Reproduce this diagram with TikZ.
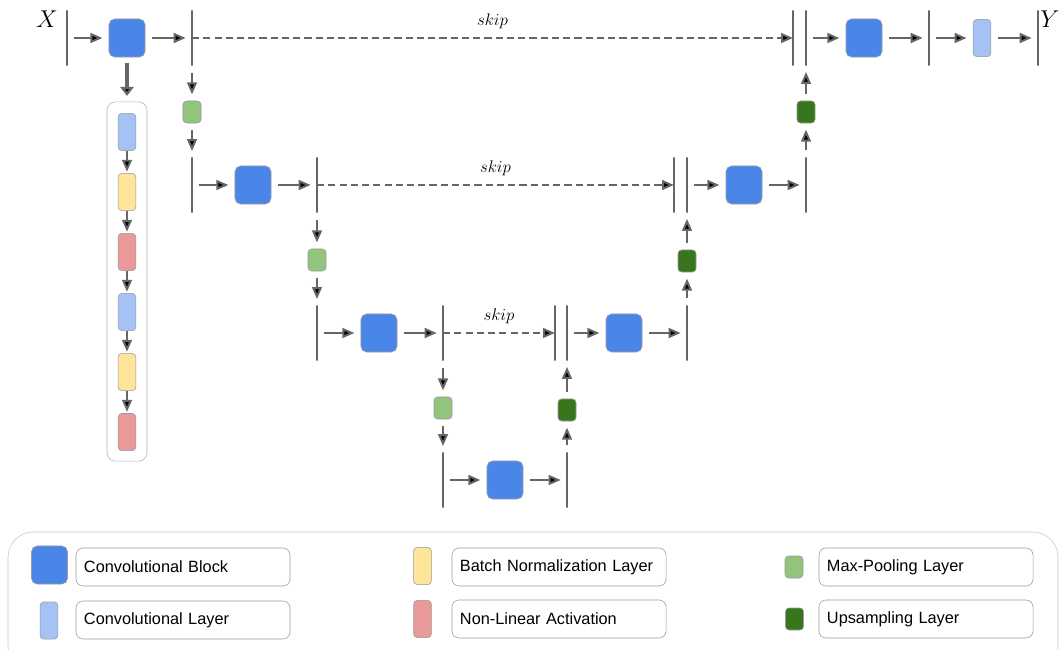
\documentclass[tikz,border=0pt]{standalone}
\usepackage{fontspec}
\setsansfont{Liberation Sans}
\usetikzlibrary{arrows.meta,positioning}
\definecolor{convblue}{HTML}{4A86E8}
\definecolor{layerblue}{HTML}{A4C2F4}
\definecolor{bnyellow}{HTML}{FFE599}
\definecolor{actred}{HTML}{EA9999}
\definecolor{poolgreen}{HTML}{93C47D}
\definecolor{upgreen}{HTML}{38761D}
\definecolor{linegray}{HTML}{666666}
\definecolor{boxgray}{HTML}{9A9A9A}
\tikzset{
    block/.style={
           rectangle, rounded corners=4pt,
           draw=boxgray, thin, fill=convblue,
           minimum width=0.9cm,
           minimum height=0.95cm,
           inner sep=0pt
           },
    layer/.style={
           rectangle, rounded corners=2.5pt,
           draw=boxgray, thin,
           minimum width=0.44cm,
           minimum height=0.93cm,
           inner sep=0pt
           },
    pool/.style={
           rectangle, rounded corners=2.5pt,
           draw=boxgray, thin, fill=poolgreen,
           minimum width=0.45cm,
           minimum height=0.55cm,
           inner sep=0pt
           },
    upsample/.style={pool, fill=upgreen},
    bar/.style={
           rectangle, draw=linegray, line width=1.1pt,
           minimum width=0pt, minimum height=1.38cm,
           inner sep=0pt, outer sep=0pt
           },
    flow/.style={
           -{Triangle[length=8.5pt,width=7pt]}, draw=linegray, line width=1.4pt,
           shorten <=5pt, shorten >=4.5pt
           },
    stackflow/.style={flow, shorten <=0pt, shorten >=1pt},
    bigflow/.style={
           -{Triangle[length=6.5pt,width=9.5pt]}, draw=linegray, line width=3.5pt,
           shorten <=4pt, shorten >=4pt
           },
    skipline/.style={flow, dash pattern=on 5pt off 3pt, shorten <=0pt, shorten >=0pt},
    skiplabel/.style={
           above=5pt, inner sep=1pt,
           font=\fontsize{11.7}{14}\selectfont
           },
    tag/.style={font=\fontsize{16}{18}\selectfont, inner sep=0pt},
    keybox/.style={
           rectangle, rounded corners=5pt,
           draw=boxgray, thin,
           minimum height=0.95cm,
           text width=4.95cm, inner xsep=0.2cm,
           align=left,
           font=\sffamily\fontsize{11.6}{14}\selectfont
           },
    frame/.style={draw=black!22, thin, rounded corners=18pt}
}
\begin{document}
\begin{tikzpicture}[x=0.025cm, y=-0.025cm, node distance=1.5cm, on grid]
\path[use as bounding box, clip] (0,0) rectangle (1061,650);
% encoder
   \node[bar] (xin) at (67,38) {};
   \node[tag] (xl) at (47,19) {$X$};
   \node[block] (e0) at (127,38) {};
   \node[bar] (s0) at (192,38) {};
   \node[pool] (p0) at (192,112) {};
   \node[bar] (i1) at (192,185) {};
   \node[block] (e1) at (253,185) {};
   \node[bar] (s1) at (317,185) {};
   \node[pool] (p1) at (317,260) {};
   \node[bar] (i2) at (317,333) {};
   \node[block] (e2) at (379,333) {};
   \node[bar] (s2) at (443,333) {};
   \node[pool] (p2) at (443,408) {};
   \node[bar] (i3) at (443,480) {};
   \node[block] (e3) at (505,480) {};
   \node[bar] (o3) at (567,480) {};
% decoder
   \node[upsample] (u2) at (567,410) {};
   \node[bar] (c2a) at (555,333) {};
   \node[bar] (c2b) at (567,333) {};
   \node[block] (d2) at (624,333) {};
   \node[bar] (o2) at (687,333) {};
   \node[upsample] (u1) at (687,261) {};
   \node[bar] (c1a) at (674,185) {};
   \node[bar] (c1b) at (687,185) {};
   \node[block] (d1) at (744,185) {};
   \node[bar] (o1) at (806,185) {};
   \node[upsample] (u0) at (806,112) {};
   \node[bar] (c0a) at (793,38) {};
   \node[bar] (c0b) at (806,38) {};
   \node[block] (d0) at (864,38) {};
   \node[bar] (o0) at (929,38) {};
   \node[layer, fill=layerblue] (out) at (982,38) {};
   \node[bar] (yout) at (1038,38) {};
   \node[tag] (yl) at (1050,19) {$Y$};
   \path[flow]
    (xin) edge (e0)   (e0) edge (s0)
    (s0) edge (p0)    (p0) edge (i1)
    (i1) edge (e1)    (e1) edge (s1)
    (s1) edge (p1)    (p1) edge (i2)
    (i2) edge (e2)    (e2) edge (s2)
    (s2) edge (p2)    (p2) edge (i3)
    (i3) edge (e3)    (e3) edge (o3)
    (o3) edge (u2)    (u2) edge (c2b)
    (c2b) edge (d2)   (d2) edge (o2)
    (o2) edge (u1)    (u1) edge (c1b)
    (c1b) edge (d1)   (d1) edge (o1)
    (o1) edge (u0)    (u0) edge (c0b)
    (c0b) edge (d0)   (d0) edge (o0)
    (o0) edge (out)   (out) edge (yout);
   \path[skipline]
    (s0) edge node[skiplabel] {$skip$} (c0a)
    (s1) edge node[skiplabel] {$skip$} (c1a)
    (s2) edge node[skiplabel] {$skip$} (c2a);
% inside a convolutional block
   \node[layer, draw=black!30, fill=none, minimum width=1cm, minimum height=8.98cm,
         rounded corners=6pt] (side) at (127,281.5) {};
   \node[layer, fill=layerblue] (l1) at (127,132) {};
   \node[layer, fill=bnyellow] (l2) [below=of l1] {};
   \node[layer, fill=actred] (l3) [below=of l2] {};
   \node[layer, fill=layerblue] (l4) [below=of l3] {};
   \node[layer, fill=bnyellow] (l5) [below=of l4] {};
   \node[layer, fill=actred] (l6) [below=of l5] {};
   \path[bigflow] (e0) edge (side);
   \path[stackflow]
    (l1) edge (l2) (l2) edge (l3) (l3) edge (l4)
    (l4) edge (l5) (l5) edge (l6);
% legend
   \draw[frame] (8,532) rectangle (1058,672);
   \node[block] (kcb) at (49.5,565) {};
   \node[keybox] (tcb) at (183,567) {Convolutional Block};
   \node[layer, fill=layerblue] (kcl) at (49,620.5) {};
   \node[keybox] (tcl) at (183,620) {Convolutional Layer};
   \node[layer, fill=bnyellow] (kbn) at (422.5,566) {};
   \node[keybox] (tbn) at (559,567) {Batch Normalization Layer};
   \node[layer, fill=actred] (kna) at (422.5,619) {};
   \node[keybox] (tna) at (559,619) {Non-Linear Activation};
   \node[pool] (kmp) at (794,567) {};
   \node[keybox] (tmp) at (926,567) {Max-Pooling Layer};
   \node[upsample] (kup) at (794.5,619) {};
   \node[keybox] (tup) at (926,619) {Upsampling Layer};
\end{tikzpicture}
\end{document}
